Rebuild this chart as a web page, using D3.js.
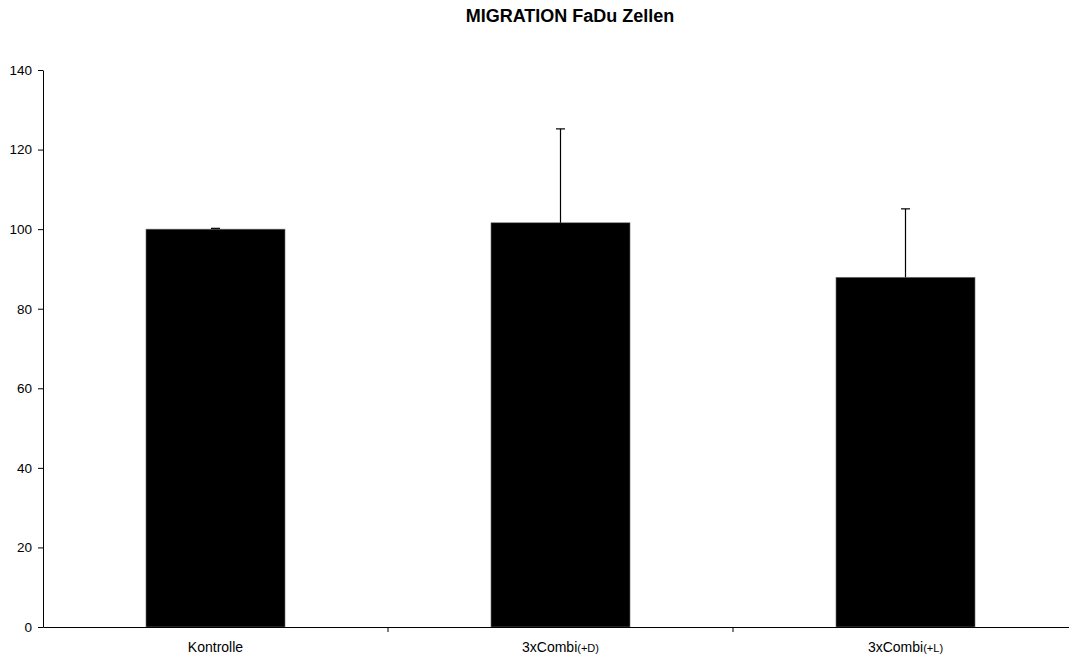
<!DOCTYPE html>
<head>
  <meta charset="utf-8">
  <script src="https://d3js.org/d3.v7.min.js"></script>
  <style>
    body { margin:0; background:#fff; }
    text { font-family: "Liberation Sans", Arial, sans-serif; }
  </style>
</head>
<body>
  <script>
    // data
    var categories = ["Kontrolle", "3xCombi", "3xCombi"];
    var suffixes = ["", "(+D)", "(+L)"];
    var means = [100, 101.6, 87.9];
    var errors = [0.2, 23.6, 17.2];
    var yTicks = [0, 20, 40, 60, 80, 100, 120, 140];

    var width = 1069, height = 661;
    var margin = {top: 70, left: 43, bottom: 34};

    var svg = d3.select("body").append("svg")
      .attr("width", width)
      .attr("height", height);

    var x = d3.scaleBand()
      .domain(d3.range(categories.length))
      .range([margin.left, margin.left + 345 * 3])
      .padding(0);

    var y = d3.scaleLinear()
      .domain([0, 140])
      .range([627, margin.top]);

    var barW = x.bandwidth() * 0.403;

    // title
    svg.append("text")
      .attr("x", 570).attr("y", 22)
      .attr("text-anchor", "middle")
      .style("font-weight", "bold").style("font-size", "18px")
      .text("MIGRATION FaDu Zellen");

    // bars
    svg.selectAll("rect.bar").data(means).enter()
      .append("rect")
      .attr("class", "bar")
      .attr("x", function(d, i) { return x(i) + x.bandwidth() / 2 - barW / 2; })
      .attr("y", function(d) { return y(d); })
      .attr("width", barW)
      .attr("height", function(d) { return y(0) - y(d); })
      .attr("fill", "#000")
      .attr("stroke", "#777").attr("stroke-width", 0.6);

    // error bars (upper only)
    var eb = svg.selectAll("g.err").data(means).enter().append("g");
    eb.append("line")
      .attr("x1", function(d, i) { return x(i) + x.bandwidth() / 2; })
      .attr("x2", function(d, i) { return x(i) + x.bandwidth() / 2; })
      .attr("y1", function(d) { return y(d); })
      .attr("y2", function(d, i) { return y(d + errors[i]); })
      .attr("stroke", "#000").attr("stroke-width", 1.2);
    eb.append("line")
      .attr("x1", function(d, i) { return x(i) + x.bandwidth() / 2 - 4.5; })
      .attr("x2", function(d, i) { return x(i) + x.bandwidth() / 2 + 4.5; })
      .attr("y1", function(d, i) { return y(d + errors[i]); })
      .attr("y2", function(d, i) { return y(d + errors[i]); })
      .attr("stroke", "#000").attr("stroke-width", 1.2);

    // y axis
    var yAxis = svg.append("g")
      .attr("transform", "translate(" + margin.left + ",0)")
      .call(d3.axisLeft(y).tickValues(yTicks).tickSize(5).tickPadding(6).tickSizeOuter(0));
    yAxis.select(".domain").attr("stroke", "#000");
    yAxis.selectAll("text").style("font-size", "13.5px").attr("fill", "#000")
      .style("font-family", "'Liberation Sans', Arial, sans-serif");

    // x axis
    var xAxis = svg.append("g")
      .attr("transform", "translate(0," + y(0) + ")")
      .call(d3.axisBottom(x).tickSize(0).tickFormat(""));
    xAxis.select(".domain").attr("stroke", "#000");
    // category separators
    xAxis.selectAll("line.sep").data(d3.range(1, categories.length)).enter()
      .append("line")
      .attr("x1", function(i) { return x(i); })
      .attr("x2", function(i) { return x(i); })
      .attr("y1", 0).attr("y2", 5)
      .attr("stroke", "#000");

    // category labels
    var lab = svg.selectAll("text.cat").data(categories).enter()
      .append("text")
      .attr("class", "cat")
      .attr("x", function(d, i) { return x(i) + x.bandwidth() / 2; })
      .attr("y", 652)
      .attr("text-anchor", "middle")
      .style("font-size", "14px");
    lab.append("tspan").text(function(d) { return d; });
    lab.append("tspan").style("font-size", "11px")
      .text(function(d, i) { return suffixes[i]; });
  </script>
</body>
